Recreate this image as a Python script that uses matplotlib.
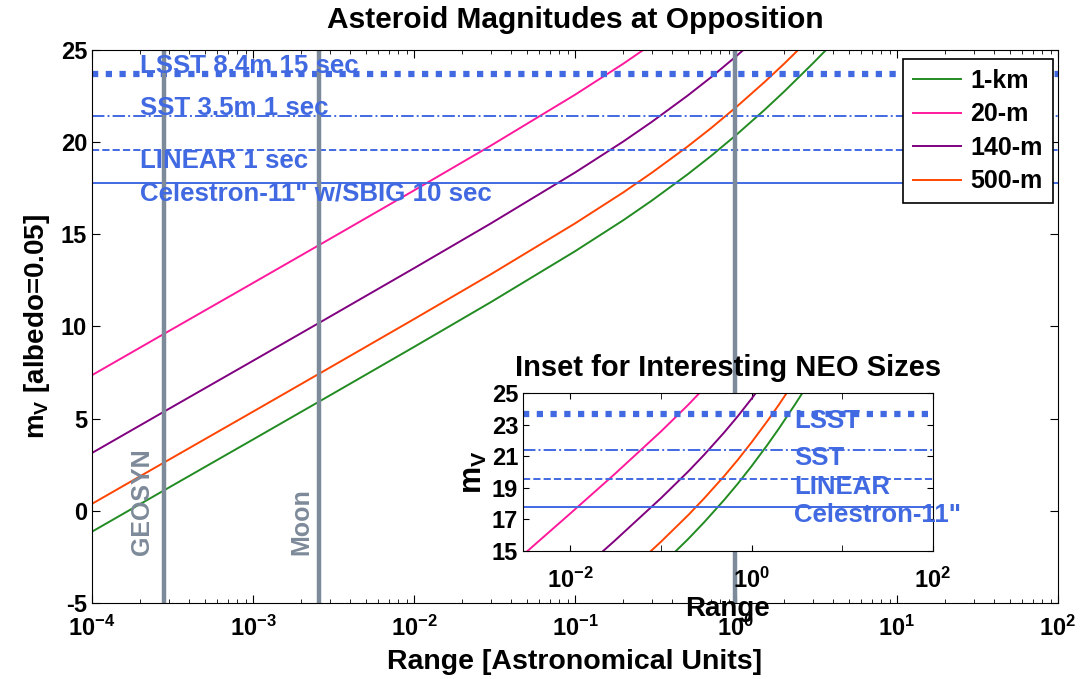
import matplotlib
matplotlib.use("Agg")
import matplotlib.pyplot as plt
from matplotlib.ticker import LogLocator, NullFormatter, FixedLocator

plt.rcParams['font.family'] = ['Liberation Sans', 'DejaVu Sans']
plt.rcParams['font.weight'] = 'bold'
plt.rcParams['axes.labelweight'] = 'bold'
plt.rcParams['axes.titleweight'] = 'bold'
plt.rcParams['axes.unicode_minus'] = False
plt.rcParams['mathtext.fontset'] = 'custom'
plt.rcParams['mathtext.rm'] = 'Liberation Sans:bold'
plt.rcParams['mathtext.bf'] = 'Liberation Sans:bold'
plt.rcParams['mathtext.it'] = 'Liberation Sans:bold'
plt.rcParams['mathtext.default'] = 'bf'

# range in AU and magnitude
rng = [1e-4, 3e-4, 1e-3, 3e-3, 1e-2, 3e-2, 0.1, 0.2, 0.3, 0.5, 0.7, 1.0, 1.5, 2.0, 3.0, 4.0]
mag_1km = [-1.13, 1.26, 3.87, 6.26, 8.89, 11.32, 14.08, 15.77, 16.83, 18.25, 19.25, 20.38, 21.74, 22.76, 24.27, 25.38]
mag_20m = [7.36, 9.75, 12.36, 14.75, 17.38, 19.81, 22.57, 24.26, 25.32]
mag_140m = [3.14, 5.53, 8.14, 10.53, 13.16, 15.59, 18.35, 20.04, 21.10, 22.52, 23.52, 24.65, 26.01]
mag_500m = [0.38, 2.77, 5.38, 7.77, 10.40, 12.83, 15.59, 17.28, 18.34, 19.76, 20.76, 21.89, 23.25, 24.27, 25.78]

# survey limiting magnitudes
survey_mag = [23.7, 21.4, 19.55, 17.8]
survey_long = ['LSST 8.4m 15 sec', 'SST 3.5m 1 sec', 'LINEAR 1 sec', 'Celestron-11" w/SBIG 10 sec']
survey_short = ['LSST', 'SST', 'LINEAR', 'Celestron-11"']
survey_text_y = [24.15, 21.85, 19.0, 17.2]
inset_text_y = [23.2, 20.9, 19.05, 17.3]

# reference distances (AU)
ref_dist = [2.8e-4, 2.57e-3, 0.98]
ref_names = ['GEOSYN', 'Moon']
ref_text_x = [2.05e-4, 2.0e-3]

blue = '#4169E1'
gray = '#7D8A99'
styles = [dict(ls=(0, (1, 1.2)), lw=4.5), dict(ls='-.', lw=1.4),
          dict(ls='--', lw=1.4), dict(ls='-', lw=1.4)]

curves = [('1-km', mag_1km, '#228B22'), ('20-m', mag_20m, '#FF1A9C'),
          ('140-m', mag_140m, '#800080'), ('500-m', mag_500m, '#FF4500')]

fig = plt.figure(figsize=(10.81, 6.79), dpi=100)
ax = fig.add_axes([0.0851, 0.1119, 0.8936, 0.8145])

for name, m, c in curves:
    ax.plot(rng[:len(m)], m, color=c, lw=1.4, label=name)
for m, st in zip(survey_mag, styles):
    ax.axhline(m, color=blue, **st)
for d in ref_dist:
    ax.axvline(d, color=gray, lw=3.2)
for t, y in zip(survey_long, survey_text_y):
    ax.text(2e-4, y, t, color=blue, fontsize=18.6, va='center', ha='left')
for d, n in zip(ref_text_x, ref_names):
    ax.text(d, -2.4, n, color=gray, fontsize=18, rotation=90, ha='center', va='bottom')

ax.set_xscale('log')
ax.set_xlim(1e-4, 1e2)
ax.set_ylim(-5, 25)
ax.set_yticks(range(-5, 26, 5))
ax.xaxis.set_major_locator(LogLocator(base=10, numticks=10))
ax.xaxis.set_minor_locator(LogLocator(base=10, subs=range(2, 10), numticks=20))
ax.xaxis.set_minor_formatter(NullFormatter())
ax.tick_params(which='both', direction='in', top=True, right=True, labelsize=17)
ax.tick_params(axis='x', pad=9)
ax.tick_params(which='major', length=6)
ax.tick_params(which='minor', length=3)
ax.set_title('Asteroid Magnitudes at Opposition', fontsize=21.5, pad=16)
ax.set_xlabel('Range [Astronomical Units]', fontsize=20.5, labelpad=6)
ax.set_ylabel(r'm$_V$ [albedo=0.05]', fontsize=20, labelpad=6)

leg = ax.legend(loc='upper right', bbox_to_anchor=(0.9948, 0.9837), fontsize=18,
                handlelength=1.9, handletextpad=0.4, fancybox=False, framealpha=1,
                edgecolor='black', borderpad=0.4, labelspacing=0.38, borderaxespad=0)
leg.get_frame().set_linewidth(1.2)

# inset
ins = fig.add_axes([0.4838, 0.1885, 0.3793, 0.2327])
ins.set_facecolor('white')
for name, m, c in curves:
    ins.plot(rng[:len(m)], m, color=c, lw=1.4)
for m, st in zip(survey_mag, styles):
    ins.axhline(m, color=blue, **st)
for t, y in zip(survey_short, inset_text_y):
    ins.text(2.95, y, t, color=blue, fontsize=18.5, va='center', ha='left', clip_on=False)
ins.set_xscale('log')
ins.set_xlim(0.003, 100)
ins.set_ylim(15, 25)
ins.set_yticks(range(15, 26, 2))
ins.xaxis.set_major_locator(FixedLocator([1e-2, 1e0, 1e2]))
ins.xaxis.set_minor_locator(FixedLocator([1e-1, 1e1]))
ins.xaxis.set_minor_formatter(NullFormatter())
ins.tick_params(which='both', direction='in', top=True, right=True, labelsize=17, length=4)
ins.tick_params(axis='x', pad=12)
ins.set_title('Inset for Interesting NEO Sizes', fontsize=21, pad=12)
ins.set_xlabel('Range', fontsize=20, labelpad=2)
ins.set_ylabel(r'm$_V$', fontsize=22, labelpad=2)

fig.savefig('out.png', dpi=100)
